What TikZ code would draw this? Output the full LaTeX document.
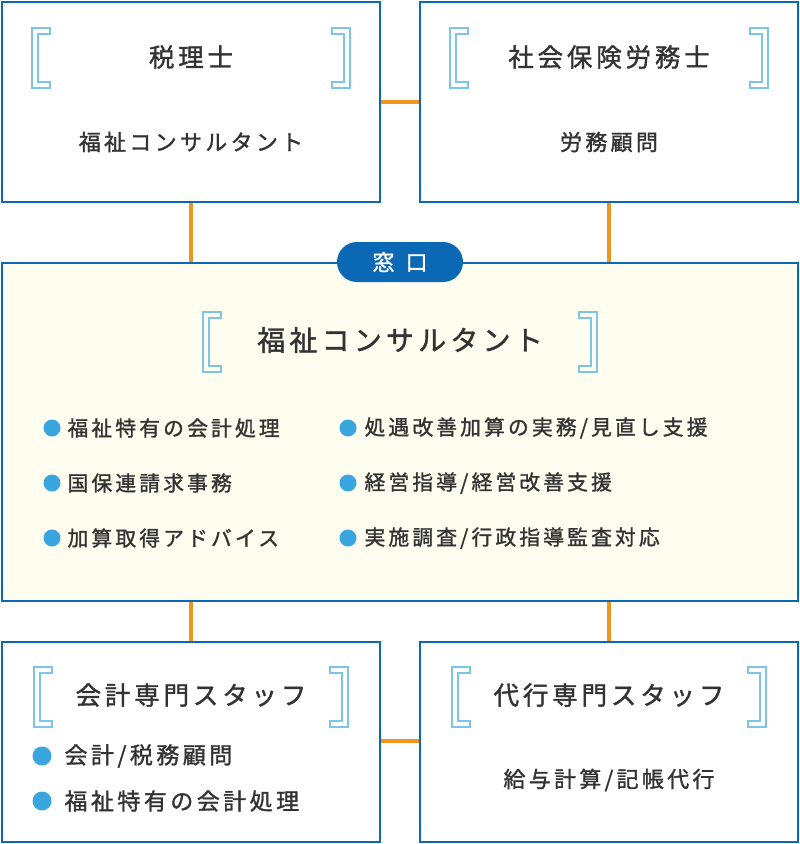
\documentclass[tikz,border=0pt]{standalone}
\usepackage{fontspec}
\setmainfont[LetterSpace=15, FakeBold=1.3]{Noto Sans CJK JP}
\usetikzlibrary{positioning, calc}

\definecolor{boxblue}{HTML}{0A68B4}
\definecolor{linkorange}{HTML}{F0961E}
\definecolor{dotblue}{HTML}{3AA6E0}
\definecolor{brackblue}{HTML}{7CC4E8}
\definecolor{txtgray}{HTML}{333333}
\definecolor{cream}{HTML}{FFFDF0}

% left / right bracket: x, top y, bottom y
\newcommand{\brkL}[3]{\draw[brk] (#1,#2) -- ++(18,0) -- ++(0,6) -- ++(-12,0) -- (#1+6,#3-6) -- ++(12,0) -- ++(0,6) -- (#1,#3) -- cycle;}
\newcommand{\brkR}[3]{\draw[brk] (#1,#2) -- ++(-18,0) -- ++(0,6) -- ++(12,0) -- (#1-6,#3-6) -- ++(-12,0) -- ++(0,6) -- (#1,#3) -- cycle;}

\begin{document}
\begin{tikzpicture}[
    x=1pt, y=-1pt,
    font=\fontsize{22}{26}\selectfont, text=txtgray,
    panel/.style={draw=boxblue, line width=2pt, fill=white, minimum width=378pt, minimum height=200pt, inner sep=0pt},
    link/.style={draw=linkorange, line width=3.5pt},
    brk/.style={draw=brackblue, line width=1.4pt},
    title/.style={font=\fontsize{25.5}{30}\selectfont},
    dot/.style={circle, fill=dotblue, minimum size=17pt, inner sep=0pt},
    item/.style={anchor=west, font=\fontsize{20.8}{24}\selectfont}
]
    \useasboundingbox (0,0) rectangle (800,844);

    % boxes
    \node[panel] (tax) at (191,102) {};
    \node[panel] (labor) at (609,102) {};
    \node[panel, fill=cream, minimum width=796pt, minimum height=338pt] (desk) at (400,432) {};
    \node[panel] (acct) at (191,741.5) {};
    \node[panel] (agent) at (609,741.5) {};

    % links
    \draw[link] (tax.east |- 0,102) -- (labor.west |- 0,102);
    \draw[link] (acct.east |- 0,741) -- (agent.west |- 0,741);
    \draw[link] (tax.south) -- (desk.north -| tax.south);
    \draw[link] (labor.south) -- (desk.north -| labor.south);
    \draw[link] (desk.south -| acct.north) -- (acct.north);
    \draw[link] (desk.south -| agent.north) -- (agent.north);

    % window label
    \node[fill=boxblue, rounded corners=20pt, minimum width=126pt, minimum height=40pt, text=white, font=\fontsize{22}{24}\selectfont] (window) at (400,262) {窓\enspace 口};

    % top left
    \brkL{32}{28}{88} \brkR{350}{28}{88}
    \node[title] (taxT) at (191,57) {税理士};
    \node (taxS) at (191,142) {福祉コンサルタント};

    % top right
    \brkL{450}{28}{88} \brkR{768}{28}{88}
    \node[title] (laborT) at (609,57) {社会保険労務士};
    \node (laborS) at (609,142) {労務顧問};

    % middle
    \brkL{203}{312}{372} \brkR{597}{312}{372}
    \node[font=\fontsize{28}{32}\selectfont] (deskT) at (400,340) {福祉コンサルタント};
    \foreach \y/\a/\b [count=\i] in {428/福祉特有の会計処理/処遇改善加算の実務{/}見直し支援,
                         483/国保連請求事務/経営指導{/}経営改善支援,
                         538/加算取得アドバイス/実施調査{/}行政指導監査対応} {
        \node[dot] (dl\i) at (52,\y) {};
        \node[item] (il\i) at (64,\y) {\a};
        \node[dot] (dr\i) at (348,\y) {};
        \node[item] (ir\i) at (361,\y) {\b};
    }

    % bottom left
    \brkL{34}{667}{727} \brkR{348}{667}{727}
    \node[title] (acctT) at (191,695) {会計専門スタッフ};
    \node[dot, minimum size=19pt] (da1) at (42,756) {};
    \node[item, font=\fontsize{23}{26}\selectfont] (ia1) at (61,756) {会計/税務顧問};
    \node[dot, minimum size=19pt] (da2) at (42,801) {};
    \node[item, font=\fontsize{23}{26}\selectfont] (ia2) at (61,801) {福祉特有の会計処理};

    % bottom right
    \brkL{452}{667}{727} \brkR{766}{667}{727}
    \node[title] (agentT) at (609,695) {代行専門スタッフ};
    \node (agentS) at (609,780) {給与計算/記帳代行};
\end{tikzpicture}
\end{document}
